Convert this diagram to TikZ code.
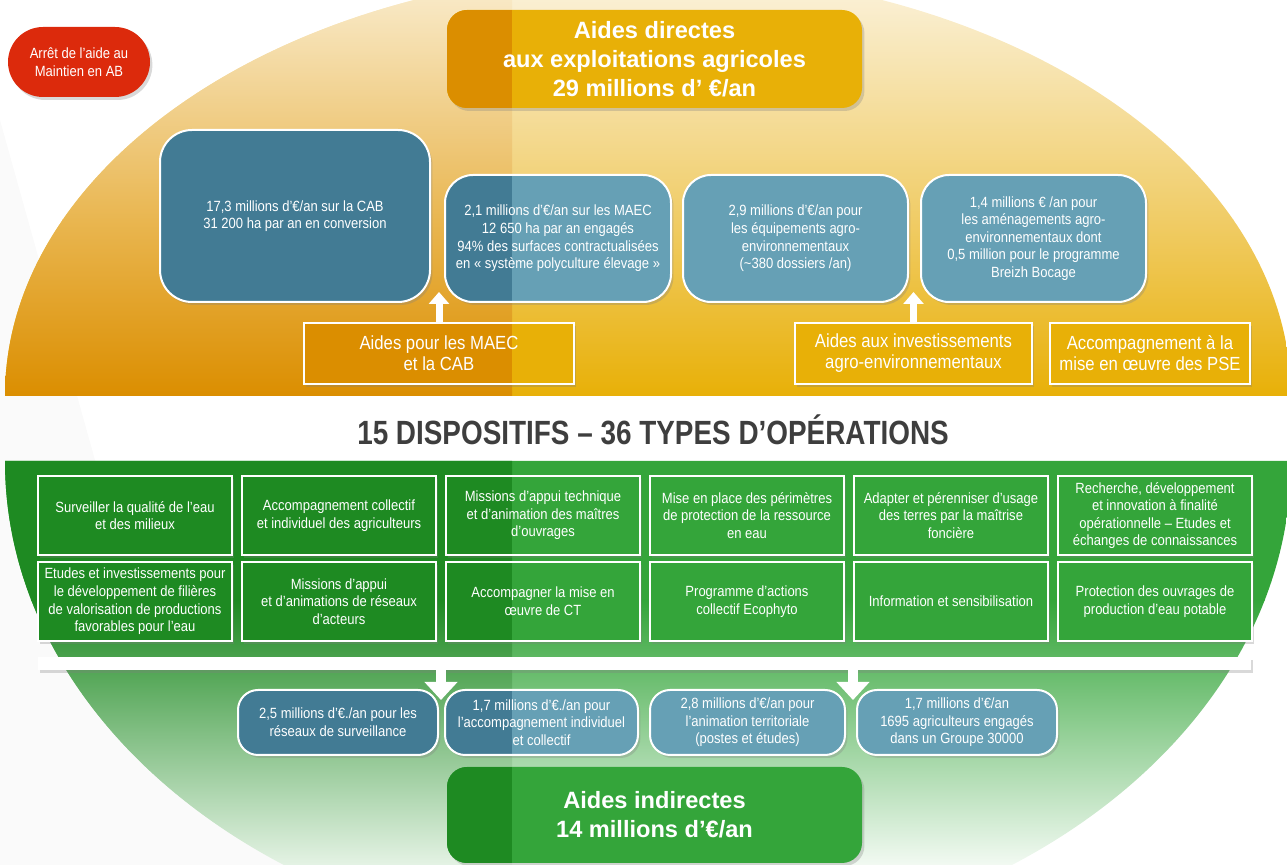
\documentclass[tikz,border=0pt]{standalone}
\usepackage{fontspec}
\setmainfont{Liberation Sans}[FakeStretch=0.88]
\newfontfamily\widefont{Liberation Sans}
\newfontfamily\titlefont{Liberation Sans}[FakeStretch=0.83]
\usepackage{xcolor}
\usepackage{tikz}
\usetikzlibrary{arrows.meta, shadows}
\definecolor{ochre}{RGB}{219, 142, 0}
\definecolor{gold}{RGB}{232, 176, 7}
\definecolor{creamtop}{RGB}{252, 245, 229}
\definecolor{straw}{RGB}{240, 204, 102}
\definecolor{strawdark}{RGB}{233, 182, 80}
\definecolor{deepgreen}{RGB}{30, 138, 34}
\definecolor{leafgreen}{RGB}{52, 165, 58}
\definecolor{mint}{RGB}{169, 216, 168}
\definecolor{mintdark}{RGB}{142, 202, 143}
\definecolor{paleleaf}{RGB}{243, 250, 243}
\definecolor{paleleafdark}{RGB}{229, 243, 229}
\definecolor{deepblue}{RGB}{66, 123, 148}
\definecolor{softblue}{RGB}{102, 160, 181}
\definecolor{alertred}{RGB}{220, 42, 12}
\definecolor{titlegrey}{RGB}{62, 62, 62}

\tikzset{
    halfdark/.style={path picture={
        \fill[#1, sharp corners] (path picture bounding box.south west) rectangle (divide |- path picture bounding box.north);}},
    softshadow/.style={drop shadow={shadow xshift=1.2pt, shadow yshift=-1.5pt, opacity=0.3}},
    smalltext/.style={font=\fontsize{7.4}{8.8}\selectfont},
    fundbox/.style={draw=white, line width=1pt, fill=softblue, halfdark=deepblue,
        text=white, align=center, rounded corners=14pt, inner sep=1pt, smalltext, softshadow},
    actionbox/.style={draw=white, line width=1pt, fill=leafgreen, halfdark=deepgreen,
        text=white, align=center, minimum width=97pt, minimum height=39.5pt,
        inner sep=1pt, smalltext, softshadow},
    schemebox/.style={draw=white, line width=1pt, fill=gold, halfdark=ochre, text=white,
        align=center, minimum height=30.5pt, inner sep=1pt,
        font=\fontsize{9.5}{10.5}\selectfont, softshadow},
    headbox/.style={fill=gold, halfdark=ochre, text=white, align=center,
        rounded corners=10pt, minimum width=207.5pt, minimum height=49pt,
        font=\widefont\bfseries\fontsize{11.8}{14.5}\selectfont, softshadow},
    alertpill/.style={fill=alertred, text=white, align=center, rounded corners=17.5pt,
        minimum width=71pt, minimum height=35pt, smalltext, softshadow},
    barbox/.style={fill=white, minimum width=606.5pt, minimum height=6.5pt, inner sep=0pt, softshadow},
    uparrow/.style={draw=white, line width=3.5pt, -{Triangle[width=10pt, length=6pt]}},
    downarrow/.style={draw=white, line width=5pt, -{Triangle[width=16pt, length=9pt]}}
}

\begin{document}
\begin{tikzpicture}[x=0.5pt, y=-0.5pt]
    \useasboundingbox (0,0) rectangle (1287,865);
    \coordinate (divide) at (512,0);
    % faint grey sweep on the left
    \fill[gray!4] (0,120) -- (95,460) -- (360,865) -- (0,865) -- cycle;

    % upper half of the oval: direct aids
    \begin{scope}
        \clip (5,396) arc[start angle=180, end angle=0, x radius=321.5pt, y radius=212.5pt] -- cycle;
        \shade[top color=creamtop, bottom color=straw] (0,-40) rectangle (1287,220);
        \shade[top color=straw, middle color=gold!85!straw, bottom color=gold] (0,220) rectangle (1287,397);
        \clip (0,-40) rectangle (512,397);
        \shade[top color=creamtop!90!straw, bottom color=strawdark] (0,-40) rectangle (1287,220);
        \shade[top color=strawdark, middle color=ochre!90!strawdark, bottom color=ochre] (0,220) rectangle (1287,397);
    \end{scope}

    % lower half of the oval: indirect aids
    \begin{scope}
        \clip (5,461) arc[start angle=180, end angle=360, x radius=321.5pt, y radius=245pt] -- cycle;
        \fill[leafgreen] (0,455) rectangle (1287,601);
        \shade[top color=leafgreen, middle color=mint, bottom color=paleleaf] (0,600) rectangle (1287,866);
        \clip (0,455) rectangle (512,866);
        \fill[deepgreen] (0,455) rectangle (1287,601);
        \shade[top color=deepgreen, middle color=mintdark, bottom color=paleleafdark] (0,600) rectangle (1287,866);
    \end{scope}

    \node[alertpill] (stop) at (79,62) {Arrêt de l’aide au\\Maintien en AB};
    \node[headbox] (direct) at (654.5,59) {Aides directes\\aux exploitations agricoles\\29 millions d’ €/an};

    % amounts of the direct aids
    \node[fundbox, minimum width=135pt, minimum height=86pt, rounded corners=16pt] (cab) at (295,216)
        {17,3 millions d’€/an sur la CAB\\31 200 ha par an en conversion};
    \node[fundbox, minimum width=113pt, minimum height=63.5pt] (maec) at (558,238.5)
        {2,1 millions d’€/an sur les MAEC\\12 650 ha par an engagés\\94\% des surfaces contractualisées\\en « système polyculture élevage »};
    \node[fundbox, minimum width=112.5pt, minimum height=63.5pt] (equip) at (795.5,238.5)
        {2,9 millions d’€/an pour\\les équipements agro-\\environnementaux\\(\textasciitilde380 dossiers /an)};
    \node[fundbox, minimum width=112.5pt, minimum height=63.5pt] (bocage) at (1033.5,238.5)
        {1,4 millions € /an pour\\les aménagements agro-\\environnementaux dont\\0,5 million pour le programme\\Breizh Bocage};

    \node[schemebox, minimum width=135pt] (aidmaec) at (439,353.5) {Aides pour les MAEC\\et la CAB};
    \node[schemebox, minimum width=118.5pt] (aidinv) at (913.5,353.5) {Aides aux investissements\\agro-environnementaux};
    \node[schemebox, minimum width=100pt] (pse) at (1150,353.5) {Accompagnement à la\\mise en œuvre des PSE};

    \coordinate (tipmaec) at (439,292);
    \coordinate (tipinv) at (913.5,292);
    \draw[uparrow] (aidmaec.north) -- (tipmaec);
    \draw[uparrow] (aidinv.north) -- (tipinv);

    \node[font=\titlefont\bfseries\fontsize{16.8}{18}\selectfont, text=titlegrey] (title) at (653,430)
        {15 DISPOSITIFS – 36 TYPES D’OPÉRATIONS};

    % fifteen schemes, two rows of six
    \foreach \txt [count=\i] in {
        {Surveiller la qualité de l’eau\\et des milieux},
        {Accompagnement collectif\\et individuel des agriculteurs},
        {Missions d’appui technique\\et d’animation des maîtres\\d’ouvrages},
        {Mise en place des périmètres\\de protection de la ressource\\en eau},
        {Adapter et pérenniser d’usage\\des terres par la maîtrise\\foncière},
        {Recherche, développement\\et innovation à finalité\\opérationnelle – Etudes et\\échanges de connaissances}} {
        \pgfmathsetmacro{\cx}{135+204*(\i-1)}
        \node[actionbox] (upper\i) at (\cx,515.5) {\txt};
    }
    \foreach \txt [count=\i] in {
        {Etudes et investissements pour\\le développement de filières\\de valorisation de productions\\favorables pour l’eau},
        {Missions d’appui\\et d’animations de réseaux\\d’acteurs},
        {Accompagner la mise en\\œuvre de CT},
        {Programme d’actions\\collectif Ecophyto},
        {Information et sensibilisation},
        {Protection des ouvrages de\\production d’eau potable}} {
        \pgfmathsetmacro{\cx}{135+204*(\i-1)}
        \node[actionbox] (lower\i) at (\cx,601.5) {\txt};
    }

    \node[barbox] (bar) at (644.5,663.5) {};
    \coordinate (dropa) at (441,700);
    \coordinate (dropb) at (853,700);
    \draw[downarrow] (bar.center -| dropa) -- (dropa);
    \draw[downarrow] (bar.center -| dropb) -- (dropb);

    % amounts of the indirect aids
    \node[fundbox, minimum width=100pt, minimum height=32.5pt, rounded corners=10pt] (survey) at (338,722.5)
        {2,5 millions d’€./an pour les\\réseaux de surveillance};
    \node[fundbox, minimum width=96.5pt, minimum height=32.5pt, rounded corners=10pt] (coach) at (541.5,722.5)
        {1,7 millions d’€./an pour\\l’accompagnement individuel\\et collectif};
    \node[fundbox, minimum width=97.5pt, minimum height=32.5pt, rounded corners=10pt] (anim) at (747.5,722.5)
        {2,8 millions d’€/an pour\\l’animation territoriale\\(postes et études)};
    \node[fundbox, minimum width=100pt, minimum height=32.5pt, rounded corners=10pt] (groups) at (957,722.5)
        {1,7 millions d’€/an\\1695 agriculteurs engagés\\dans un Groupe 30000};

    \node[headbox, fill=leafgreen, halfdark=deepgreen, minimum height=48pt] (indirect) at (654.5,815)
        {Aides indirectes\\14 millions d’€/an};
\end{tikzpicture}
\end{document}
